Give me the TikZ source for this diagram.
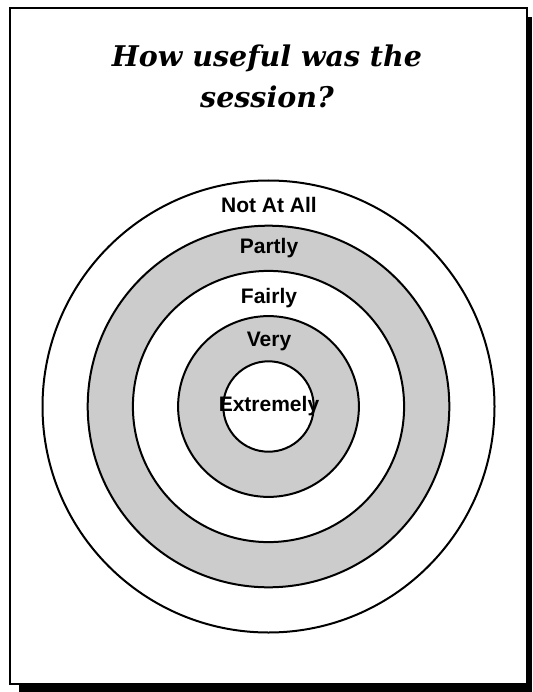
\documentclass[tikz,border=0pt]{standalone}
\usepackage{fontspec}
\setmainfont{Liberation Sans}
\newfontfamily\titlefont{DejaVu Serif}
\usetikzlibrary{positioning}

\begin{document}
\begin{tikzpicture}[
  x=1pt, y=-1pt,
  ring/.style={draw=black, line width=2pt},
  band/.style={ring, fill=black!20},
  blank/.style={ring, fill=white},
  level/.style={font=\fontsize{21}{25}\selectfont\bfseries, anchor=base, inner sep=0pt},
  heading/.style={font=\titlefont\fontsize{28.5}{41}\selectfont\bfseries\itshape,
    align=center, anchor=base, inner sep=0pt},
  ]
  \useasboundingbox (0,0) rectangle (532,692);

  % drop shadow and page frame
  \fill[black] (19,17) rectangle (532,692);
  \draw[fill=white, line width=2pt] (10,8) rectangle (527,684);

  \node[heading] (title) at (267,108) {How useful was the\\session?};

  % target rings, outermost first
  \coordinate (c) at (268.5,406.5);
  \foreach \r/\s in {5/blank,4/band,3/blank,2/band,1/blank}
    \draw[\s] (c) circle[radius=45.2*\r];

  \node[level] (notatall)  at (269,213) {Not At All};
  \node[level] (partly)    at (269,254) {Partly};
  \node[level] (fairly)    at (269,303) {Fairly};
  \node[level] (very)      at (269,346) {Very};
  \node[level] (extremely) at (269,411) {Extremely};
\end{tikzpicture}
\end{document}
